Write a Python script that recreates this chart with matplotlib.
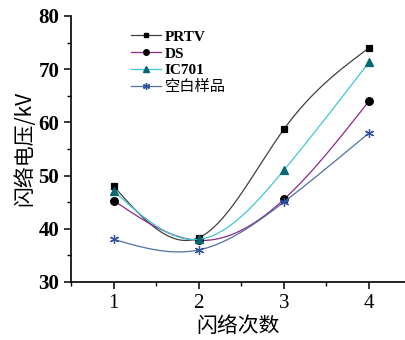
import numpy as np
import matplotlib.pyplot as plt

# --- 数据 ---
flash_count = [1, 2, 3, 4]
prtv = [48.0, 38.3, 58.7, 74.0]
ds = [45.3, 37.8, 45.5, 64.0]
ic701 = [47.1, 38.0, 51.0, 71.3]
blank = [38.0, 36.0, 45.0, 58.0]


def natural_spline(x, y, n=200):
    """Doğal kübik spline (scipy olmadan)."""
    x = np.asarray(x, float)
    y = np.asarray(y, float)
    m = len(x)
    h = np.diff(x)
    A = np.zeros((m, m))
    b = np.zeros(m)
    A[0, 0] = A[-1, -1] = 1
    for i in range(1, m - 1):
        A[i, i - 1] = h[i - 1]
        A[i, i] = 2 * (h[i - 1] + h[i])
        A[i, i + 1] = h[i]
        b[i] = 6 * ((y[i + 1] - y[i]) / h[i] - (y[i] - y[i - 1]) / h[i - 1])
    M = np.linalg.solve(A, b)
    xs = np.linspace(x[0], x[-1], n)
    ys = np.empty_like(xs)
    for k, t in enumerate(xs):
        i = min(np.searchsorted(x, t, side='right') - 1, m - 2)
        dx1 = x[i + 1] - t
        dx0 = t - x[i]
        ys[k] = (M[i] * dx1 ** 3 + M[i + 1] * dx0 ** 3) / (6 * h[i]) \
            + (y[i] / h[i] - M[i] * h[i] / 6) * dx1 \
            + (y[i + 1] / h[i] - M[i + 1] * h[i] / 6) * dx0
    return xs, ys


plt.rcParams['font.family'] = ['Liberation Serif', 'Noto Sans CJK SC']

fig = plt.figure(figsize=(4.06, 3.4), dpi=100)
ax = fig.add_axes([0.175, 0.171, 0.822, 0.782])

series = [
    ('PRTV', prtv, '#404040', 'black', 's', 4.5),
    ('DS', ds, '#8a2a8a', 'black', 'o', 5.5),
    ('IC701', ic701, '#40c8d0', '#006870', '^', 6),
    ('空白样品', blank, '#5070a8', '#3050a0', (6, 2, 0), 6.5),
]

for name, vals, lc, mc, mk, ms in series:
    xs, ys = natural_spline(flash_count, vals)
    ax.plot(xs, ys, color=lc, lw=0.9)
    ax.plot(flash_count, vals, linestyle='none', marker=mk, ms=ms,
            color=mc, markeredgecolor=mc, markeredgewidth=0.9)
    ax.plot([], [], color=lc, lw=0.9, marker=mk, ms=ms - 1.5,
            markerfacecolor=mc, markeredgecolor=mc, label=name)

ax.set_xlim(0.5, 4.42)
ax.set_ylim(30, 80)
ax.set_xticks([1, 2, 3, 4])
ax.set_xticks([0.5, 1.5, 2.5, 3.5], minor=True)
ax.set_yticks([30, 40, 50, 60, 70, 80])
ax.set_yticks([35, 45, 55, 65, 75], minor=True)
ax.spines['top'].set_visible(False)
ax.spines['right'].set_visible(False)
ax.spines['left'].set_linewidth(1.2)
ax.spines['bottom'].set_linewidth(1.2)
ax.tick_params(which='major', direction='out', length=5, width=1.1, labelsize=15)
ax.tick_params(which='minor', direction='out', length=3, width=1.0)
for lbl in ax.get_yticklabels():
    lbl.set_fontweight('bold')

ax.set_xlabel('闪络次数', fontsize=15, family=['Noto Sans CJK SC'], labelpad=2)
ax.set_ylabel('闪络电压/kV', fontsize=15, family=['Noto Sans CJK SC', 'Liberation Serif'], labelpad=2)

leg = ax.legend(loc='upper left', bbox_to_anchor=(0.16, 0.97), frameon=False,
                fontsize=11, handlelength=2.0, handletextpad=0.25, labelspacing=0.2,
                borderaxespad=0)
for t in leg.get_texts():
    if t.get_text() != '空白样品':
        t.set_fontweight('bold')

fig.savefig('out.png', dpi=100)
